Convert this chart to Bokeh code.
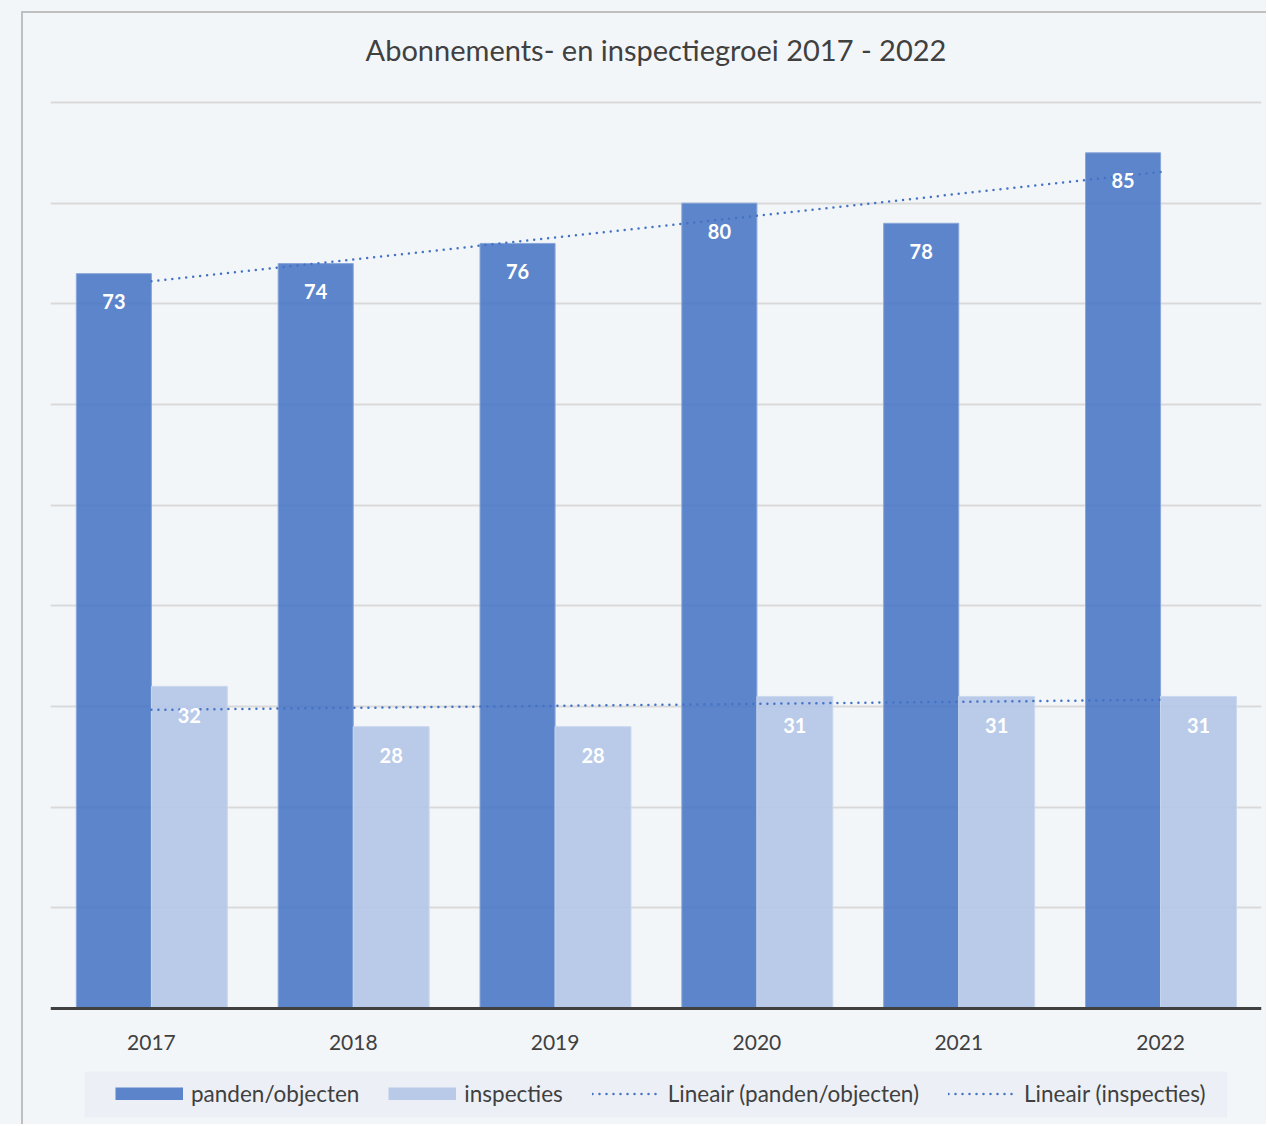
import numpy as np
from bokeh.plotting import figure
from bokeh.layouts import column
from bokeh.models import (ColumnDataSource, FactorRange, Legend, LegendItem,
                          FixedTicker, Grid, Span, BoxAnnotation)
from bokeh.transform import dodge
from bokeh.core.properties import value
from bokeh.embed import file_html
from bokeh.resources import INLINE

# ---- data ----
years = ["2017", "2018", "2019", "2020", "2021", "2022"]
panden = [73, 74, 76, 80, 78, 85]
inspecties = [32, 28, 28, 31, 31, 31]
y_grid_ticks = [10, 20, 30, 40, 50, 60, 70, 80, 90]
title_text = "Abonnements- en inspectiegroei 2017 - 2022"

# linear trend lines (as Excel "Lineair" trendline)
xi = np.arange(1, len(years) + 1)
trend_p = np.polyval(np.polyfit(xi, panden, 1), xi)
trend_i = np.polyval(np.polyfit(xi, inspecties, 1), xi)

BG = "#F3F6F9"
TXT = "#404040"
FONT = "Lato"
DARK = "#4472C4"
LIGHT = "#B4C7E7"

src = ColumnDataSource(dict(
    year=years, panden=panden, inspecties=inspecties,
    tp=trend_p, ti=trend_i, zero=[0] * len(years),
    pl=[str(v) for v in panden], il=[str(v) for v in inspecties],
))
title_src = ColumnDataSource(dict(x=[years[2]], y=[y_grid_ticks[-1]], t=[title_text]))

# frame spans the whole card: title, bars, category labels and legend inside
p = figure(x_range=FactorRange(factors=years, range_padding=0),
           y_range=(-11.72, 98.84),
           width=1245, height=1113, output_backend="svg", toolbar_location=None,
           x_axis_location=None, y_axis_location=None,
           min_border_left=27, min_border_right=7, min_border_top=0,
           min_border_bottom=0,
           background_fill_color=BG, border_fill_color=BG, outline_line_color=None,
           styles={"border-left": "2px solid #BFBFBF",
                   "border-top": "2px solid #BFBFBF"})

for g in p.grid:
    g.visible = False

p.add_layout(Grid(dimension=1, ticker=FixedTicker(ticks=y_grid_ticks),
                  grid_line_color="#D9D9D9", grid_line_width=2))

# legend background box
p.add_layout(BoxAnnotation(left=0.1686, right=5.83, top=-6.26, bottom=-10.83,
                           fill_color="#ECF0F6", fill_alpha=1, line_color=None,
                           level="underlay"))

r1 = p.vbar(x=dodge("year", -0.186, range=p.x_range), top="panden", width=0.372,
            source=src, fill_color=DARK, fill_alpha=0.86,
            line_color="#8AA7DA", line_width=1)
r2 = p.vbar(x=dodge("year", 0.188, range=p.x_range), top="inspecties", width=0.376,
            source=src, fill_color=LIGHT, fill_alpha=0.92,
            line_color="#CAD8EE", line_width=1)

# legend swatches (full-size rectangles drawn as thick strokes; no visible data)
sw_src = ColumnDataSource(dict(x=[years[0], years[0]], y=[float("nan"), float("nan")]))
s1 = p.line(x="x", y="y", source=sw_src, line_color=DARK, line_alpha=0.86,
            line_width=13, line_cap="butt")
s2 = p.line(x="x", y="y", source=sw_src, line_color=LIGHT, line_alpha=0.92,
            line_width=13, line_cap="butt")

# category axis line at value 0
p.add_layout(Span(location=0, dimension="width", line_color=TXT, line_width=3))

l1 = p.line(x="year", y="tp", source=src, line_color=DARK, line_width=2.5,
            line_dash="0 7", line_cap="round")
l2 = p.line(x="year", y="ti", source=src, line_color=DARK, line_width=2.5,
            line_dash="0 7", line_cap="round")

p.text(x=dodge("year", -0.186, range=p.x_range), y="panden", text="pl", source=src,
       y_offset=28, text_align="center", text_baseline="middle",
       text_font=value(FONT), text_font_size="20px", text_font_style="bold",
       text_color="white")
p.text(x=dodge("year", 0.188, range=p.x_range), y="inspecties", text="il", source=src,
       y_offset=29, text_align="center", text_baseline="middle",
       text_font=value(FONT), text_font_size="20px", text_font_style="bold",
       text_color="white")

# category labels
p.text(x="year", y="zero", text="year", source=src, y_offset=34,
       text_align="center", text_baseline="alphabetic",
       text_font=value(FONT), text_font_size="21px", text_color=TXT)

# chart title, centred over the plot area
p.text(x=dodge("x", 0.5, range=p.x_range), y="y", text="t", source=title_src,
       y_offset=-53, text_align="center", text_baseline="alphabetic",
       text_font=value(FONT), text_font_size="29px", text_color=TXT)

legend = Legend(items=[
    LegendItem(label="panden/objecten", renderers=[s1]),
    LegendItem(label="inspecties", renderers=[s2]),
    LegendItem(label="Lineair (panden/objecten)", renderers=[l1]),
    LegendItem(label="Lineair (inspecties)", renderers=[l2]),
], orientation="horizontal", location=(65, 19),
    glyph_width=68, glyph_height=13, label_standoff=8, spacing=29,
    padding=10, margin=0,
    background_fill_alpha=0, border_line_color=None,
    label_text_font=FONT, label_text_font_size="22.5px", label_text_color=TXT)
p.add_layout(legend)

page = column(p, styles={"background-color": BG,
                         "padding-left": "21px", "padding-top": "11px"})

open("out.html", "w").write(file_html(page, INLINE))
